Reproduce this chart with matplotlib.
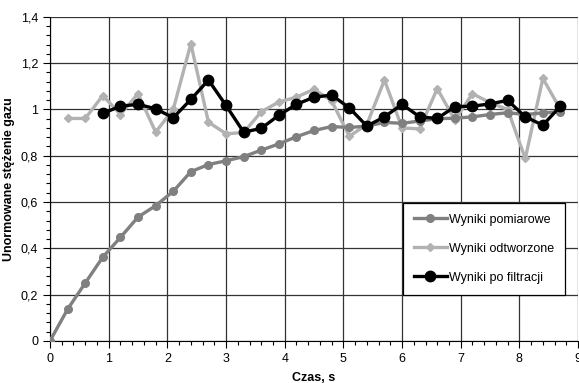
#!/usr/bin/env python3

"""Measured, reconstructed and filtered normalised gas concentration."""

import matplotlib as mpl
import matplotlib.pyplot as plt
from matplotlib.ticker import FuncFormatter, MultipleLocator

mpl.use("Agg")

# Time axis (s), samples every 0.3 s
t_meas = [0.0, 0.3, 0.6, 0.9, 1.2, 1.5, 1.8, 2.1, 2.4, 2.7, 3.0, 3.3, 3.6, 3.9,
          4.2, 4.5, 4.8, 5.1, 5.4, 5.7, 6.0, 6.3, 6.6, 6.9, 7.2, 7.5, 7.8, 8.1,
          8.4, 8.7]
y_meas = [0.0, 0.137, 0.25, 0.362, 0.447, 0.535, 0.584, 0.646, 0.731, 0.762,
          0.778, 0.796, 0.824, 0.851, 0.882, 0.909, 0.926, 0.922, 0.928, 0.944,
          0.94, 0.95, 0.96, 0.962, 0.968, 0.978, 0.986, 0.978, 0.985, 0.99]

t_rec = t_meas[1:]
y_rec = [0.961, 0.961, 1.06, 0.978, 1.068, 0.902, 1.0, 1.284, 0.945, 0.895,
         0.9, 0.99, 1.032, 1.053, 1.087, 1.037, 0.884, 0.935, 1.127, 0.92,
         0.916, 1.09, 0.954, 1.068, 1.029, 1.0, 0.788, 1.134, 1.0]

t_filt = t_meas[3:]
y_filt = [0.983, 1.014, 1.022, 1.003, 0.964, 1.043, 1.127, 1.017, 0.902, 0.918,
          0.975, 1.022, 1.053, 1.062, 1.007, 0.928, 0.968, 1.022, 0.968, 0.961,
          1.012, 1.014, 1.024, 1.039, 0.968, 0.932, 1.014]

labels = ["Wyniki pomiarowe", "Wyniki odtworzone", "Wyniki po filtracji"]


def main():
    """Entry point."""
    plt.rcParams["font.family"] = ["Liberation Sans", "DejaVu Sans"]
    fig = plt.figure(figsize=(5.79, 3.83), dpi=100)
    ax = fig.add_axes([0.0864, 0.110, 0.912, 0.846])

    ax.plot(t_meas, y_meas, color="#808080", lw=2.4, marker="o", ms=5.5,
            label=labels[0], zorder=3)
    ax.plot(t_rec, y_rec, color="#b2b2b2", lw=2.4, marker="D", ms=4.5,
            label=labels[1], zorder=2)
    ax.plot(t_filt, y_filt, color="black", lw=2.4, marker="o", ms=7.5,
            label=labels[2], zorder=4)

    ax.set_xlim(0, 9)
    ax.set_ylim(0, 1.4)
    ax.xaxis.set_major_locator(MultipleLocator(1))
    ax.xaxis.set_minor_locator(MultipleLocator(0.2))
    ax.yaxis.set_major_locator(MultipleLocator(0.2))
    ax.yaxis.set_minor_locator(MultipleLocator(0.04))
    ax.yaxis.set_major_formatter(
        FuncFormatter(lambda v, _: f"{v:g}".replace(".", ",")))
    ax.tick_params(which="major", length=5, width=0.8, labelsize=9,
                   colors="black")
    ax.tick_params(which="minor", length=3, width=0.8)
    ax.grid(True, which="major", color="#333333", lw=0.9)
    ax.set_axisbelow(True)
    for side in ["top", "right"]:
        ax.spines[side].set_visible(False)

    ax.set_xlabel("Czas, s", fontsize=9, fontweight="bold", labelpad=5)
    ax.set_ylabel("Unormowane stężenie gazu", fontsize=9, fontweight="bold",
                  labelpad=4)

    leg = ax.legend(loc="lower right", bbox_to_anchor=(0.976, 0.142),
                    borderaxespad=0, fontsize=9, labelspacing=1.35,
                    handlelength=2.6, handletextpad=0.2, borderpad=0.9,
                    fancybox=False, framealpha=1)
    leg.get_frame().set_edgecolor("black")
    leg.get_frame().set_linewidth(0.9)

    fig.savefig("out.png", dpi=100)


if __name__ == "__main__":
    main()
